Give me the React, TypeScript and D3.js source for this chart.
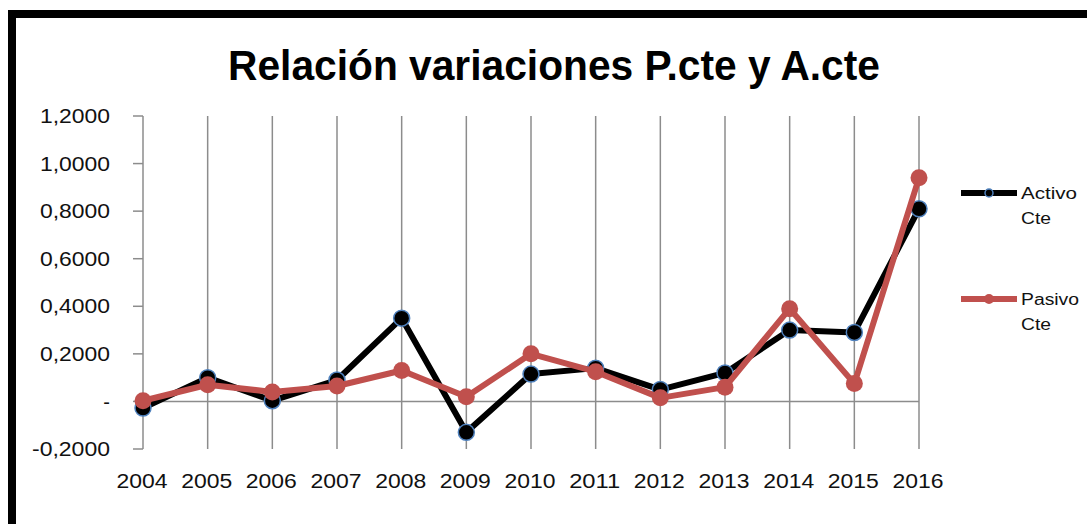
import React from "react";
import * as d3 from "d3";

const years: string[] = ["2004","2005","2006","2007","2008","2009","2010","2011","2012","2013","2014","2015","2016"];
const activoCte: number[] = [-0.028, 0.10, 0.003, 0.09, 0.35, -0.13, 0.115, 0.14, 0.05, 0.12, 0.30, 0.29, 0.81];
const pasivoCte: number[] = [0.003, 0.07, 0.04, 0.065, 0.13, 0.02, 0.20, 0.125, 0.015, 0.06, 0.39, 0.075, 0.94];
const yTicks: number[] = [-0.2, 0, 0.2, 0.4, 0.6, 0.8, 1.0, 1.2];
const title = "Relación variaciones P.cte y A.cte";
const seriesNames: string[][] = [["Activo", "Cte"], ["Pasivo", "Cte"]];

const W = 1087, H = 524;
const FONT = "'Liberation Sans', Arial, sans-serif";

export default function App() {
  const x = d3.scalePoint<string>().domain(years).range([143, 919]);
  const y = d3.scaleLinear().domain([-0.2, 1.2]).range([449, 116]);
  const line = d3.line<number>().x((_, i) => x(years[i]) as number).y(d => y(d));
  const fmt = (v: number) => (Math.abs(v) < 1e-9 ? "-" : d3.format(".4f")(v).replace(".", ",").replace("−", "-"));
  const black = "#000000", red = "#C0504D", blue = "#4F81BD", grid = "#8C8C8C";

  return (
    <div style={{ position: "absolute", left: 0, top: 0 }}>
      <svg width={W} height={H} style={{ display: "block", background: "#fff" }}>
        {/* border */}
        <path d={`M 12 ${H + 10} L 12 14 L ${W + 10} 14`} fill="none" stroke="#000" strokeWidth={8} />
        <text x={554} y={80} textAnchor="middle" fontFamily={FONT} fontWeight="bold" fontSize={42}
          textLength={652} lengthAdjust="spacingAndGlyphs" fill="#000">{title}</text>

        {/* vertical gridlines */}
        {years.map(yr => (
          <line key={yr} x1={x(yr)} x2={x(yr)} y1={y(1.2)} y2={y(-0.2)} stroke={grid} strokeWidth={1.5} />
        ))}
        {/* zero line */}
        <line x1={x(years[0])} x2={x(years[years.length - 1])} y1={y(0)} y2={y(0)} stroke={grid} strokeWidth={1.5} />
        {/* y axis ticks & labels */}
        {yTicks.map(t => (
          <g key={t}>
            <line x1={133} x2={143} y1={y(t)} y2={y(t)} stroke={grid} strokeWidth={1.5} />
            <text x={110} y={y(t)} dy="0.36em" textAnchor="end" fontFamily={FONT} fontSize={20} fill="#111"
              textLength={Math.abs(t) < 1e-9 ? undefined : (t < 0 ? 78 : 70)} lengthAdjust="spacingAndGlyphs">{fmt(t)}</text>
          </g>
        ))}
        {/* x labels */}
        {years.map(yr => (
          <text key={yr} x={(x(yr) as number) - 1} y={488} textAnchor="middle" fontFamily={FONT} fontSize={20}
            fill="#111" textLength={51} lengthAdjust="spacingAndGlyphs">{yr}</text>
        ))}

        {/* Activo */}
        <path d={line(activoCte) || ""} fill="none" stroke={black} strokeWidth={6} strokeLinejoin="round" />
        {activoCte.map((v, i) => (
          <circle key={i} cx={x(years[i])} cy={y(v)} r={8} fill={black} stroke={blue} strokeWidth={1.5} />
        ))}
        {/* Pasivo */}
        <path d={line(pasivoCte) || ""} fill="none" stroke={red} strokeWidth={6} strokeLinejoin="round" />
        {pasivoCte.map((v, i) => (
          <circle key={i} cx={x(years[i])} cy={y(v)} r={8.5} fill={red} />
        ))}

        {/* legend */}
        <g>
          <line x1={961} x2={1017} y1={193} y2={193} stroke={black} strokeWidth={6} />
          <circle cx={989} cy={193} r={4} fill={black} stroke={blue} strokeWidth={1.5} />
          <text x={1021} y={199} fontFamily={FONT} fontSize={16} fill="#111" textLength={56} lengthAdjust="spacingAndGlyphs">{seriesNames[0][0]}</text>
          <text x={1021} y={224} fontFamily={FONT} fontSize={16} fill="#111" textLength={30} lengthAdjust="spacingAndGlyphs">{seriesNames[0][1]}</text>
          <line x1={961} x2={1017} y1={299} y2={299} stroke={red} strokeWidth={6} />
          <circle cx={989} cy={299} r={5} fill={red} />
          <text x={1021} y={305} fontFamily={FONT} fontSize={16} fill="#111" textLength={58} lengthAdjust="spacingAndGlyphs">{seriesNames[1][0]}</text>
          <text x={1021} y={330} fontFamily={FONT} fontSize={16} fill="#111" textLength={30} lengthAdjust="spacingAndGlyphs">{seriesNames[1][1]}</text>
        </g>
      </svg>
    </div>
  );
}
